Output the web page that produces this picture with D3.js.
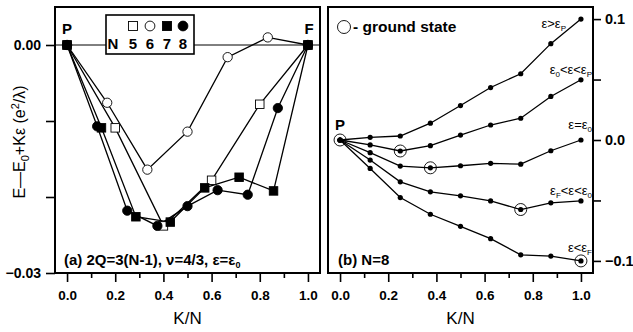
<!DOCTYPE html>
<html>
<head>
<meta charset="utf-8">
<script src="https://cdn.jsdelivr.net/npm/d3@7"></script>
<style>
  body { margin: 0; background: #fff; }
  svg text { font-family: "Liberation Sans", Arial, sans-serif; fill: #000; }
</style>
</head>
<body>
<svg id="chart" width="633" height="332"></svg>
<script>
// ---------- data: panel (a) ----------
var n5_x = [0, 0.2, 0.4, 0.6, 0.8, 1.0];
var n5_y = [0, -0.0109, -0.0238, -0.0178, -0.0078, 0];
var n6_x = [0, 1/6, 1/3, 1/2, 2/3, 5/6, 1];
var n6_y = [0, -0.0076, -0.0164, -0.0114, -0.0016, 0.001, 0];
var n7_x = [0, 1/7, 2/7, 3/7, 4/7, 5/7, 6/7, 1];
var n7_y = [0, -0.0109, -0.0226, -0.0233, -0.0188, -0.0174, -0.0192, 0];
var n8_x = [0, 0.125, 0.25, 0.375, 0.5, 0.625, 0.75, 0.875, 1];
var n8_y = [0, -0.0107, -0.0218, -0.0238, -0.0212, -0.0191, -0.0197, -0.0083, 0];

// ---------- data: panel (b), N=8 ----------
var b_x = [0, 0.125, 0.25, 0.375, 0.5, 0.625, 0.75, 0.875, 1];
var b_above_p = [0, 0.0022, 0.0033, 0.0139, 0.0285, 0.0434, 0.0548, 0.0797, 0.1];
var b_0_to_p  = [0, -0.0041, -0.0091, -0.0047, 0.0041, 0.0124, 0.018, 0.036, 0.0498];
var b_eq_0    = [0, -0.0105, -0.0216, -0.023, -0.0213, -0.0193, -0.02, -0.0089, 0];
var b_f_to_0  = [0, -0.0166, -0.0346, -0.0429, -0.0462, -0.0504, -0.0575, -0.052, -0.0504];
var b_below_f = [0, -0.0235, -0.0476, -0.0614, -0.0714, -0.0816, -0.095, -0.096, -0.1];
// index of the ground state on each curve
var b_ground = [-1, 2, 3, 6, 8];

var a_yticks = [0, -0.01, -0.02, -0.03];
var b_yticks = [0.1, 0.05, 0, -0.05, -0.1];
var x_major = [0, 0.2, 0.4, 0.6, 0.8, 1.0];
var x_minor = [0.1, 0.3, 0.5, 0.7, 0.9];

var svg = d3.select("#chart");

// bold text helper
function btext(g, x, y, size, str) {
  return g.append("text").attr("x", x).attr("y", y)
    .style("font-size", size + "px").style("font-weight", "bold").text(str || null);
}

/*********************
	Panel (a)
**********************/
var ax = d3.scaleLinear().domain([-0.05, 1.05]).range([55, 320]);
var ay = d3.scaleLinear().domain([-0.03, 0.005]).range([273, 7]);
var line = d3.line();

var pa = svg.append("g");

// zero line
pa.append("line").attr("x1", ax.range()[0]).attr("x2", ax.range()[1])
  .attr("y1", ay(0)).attr("y2", ay(0)).attr("stroke", "#000").attr("stroke-width", 1);

function drawXAxis(g, scale) {
  g.append("g").attr("transform", "translate(0,273)")
    .call(d3.axisBottom(scale).tickValues(x_major).tickSize(9).tickPadding(8).tickFormat(d3.format(".1f")))
    .call(styleAxis);
  g.append("g").attr("transform", "translate(0,273)")
    .call(d3.axisBottom(scale).tickValues(x_minor).tickSize(5).tickFormat(""))
    .call(styleAxis);
  g.append("text").attr("x", (scale(0) + scale(1)) / 2).attr("y", 324)
    .attr("text-anchor", "middle").style("font-size", "17px").style("font-weight", "normal").text("K/N");
}

function styleAxis(sel) {
  sel.select(".domain").remove();
  sel.selectAll("line").attr("stroke", "#000").attr("stroke-width", 1.6);
  sel.selectAll("text").style("font-size", "13.5px").style("font-family", "Liberation Sans, Arial, sans-serif")
    .style("font-weight", "bold");
}

drawXAxis(pa, ax);

pa.append("g").attr("transform", "translate(55,0)")
  .call(d3.axisLeft(ay).tickValues(a_yticks).tickSize(9)
    .tickFormat(function(d) { return (d === 0 || d === -0.03) ? d3.format(".2f")(d) : ""; }))
  .call(styleAxis)
  .selectAll("text").attr("dx", -2).style("font-size", "14px");

// curves
var a_series = [
  {x: n5_x, y: n5_y, shape: "square", fill: "#fff"},
  {x: n6_x, y: n6_y, shape: "circle", fill: "#fff"},
  {x: n7_x, y: n7_y, shape: "square", fill: "#000"},
  {x: n8_x, y: n8_y, shape: "circle", fill: "#000"}
];

a_series.forEach(function(s) {
  var pts = s.x.map(function(v, i) { return [ax(v), ay(s.y[i])]; });
  pa.append("path").attr("d", line(pts)).attr("fill", "none")
    .attr("stroke", "#000").attr("stroke-width", 1.3);
});

function marker(g, shape, fill, cx, cy, size) {
  if (shape === "circle") {
    g.append("circle").attr("cx", cx).attr("cy", cy).attr("r", size / 2 + 0.4)
      .attr("fill", fill).attr("stroke", "#000").attr("stroke-width", 0.9);
  } else {
    g.append("rect").attr("x", cx - size / 2).attr("y", cy - size / 2)
      .attr("width", size).attr("height", size)
      .attr("fill", fill).attr("stroke", "#000").attr("stroke-width", 0.9);
  }
}

a_series.forEach(function(s) {
  s.x.forEach(function(v, i) {
    marker(pa, s.shape, s.fill, ax(v), ay(s.y[i]), 8.5);
  });
});

// legend box
pa.append("rect").attr("x", 106).attr("y", 15).attr("width", 88).attr("height", 39)
  .attr("fill", "#fff").attr("stroke", "#000").attr("stroke-width", 1.6);
var leg_x = [133, 150, 167, 183];
a_series.forEach(function(s, i) {
  marker(pa, s.shape, s.fill, leg_x[i], 26, 9);
});
btext(pa, 113, 49, 15, "N").attr("text-anchor", "middle");
["5", "6", "7", "8"].forEach(function(t, i) {
  btext(pa, leg_x[i], 49, 15, t).attr("text-anchor", "middle");
});

btext(pa, 67, 34, 15, "P").attr("text-anchor", "middle");
btext(pa, 309, 34, 15, "F").attr("text-anchor", "middle");

var cap_a = btext(pa, 64, 265, 15);
cap_a.append("tspan").text("(a) 2Q=3(N-1), \u03bd=4/3, \u03b5=\u03b5");
cap_a.append("tspan").style("font-size", "9px").attr("dy", 3).text("0");

// y title
var yt = svg.append("text").attr("transform", "translate(25,142) rotate(-90)")
  .attr("text-anchor", "middle").style("font-size", "16px").style("font-weight", "normal");
yt.append("tspan").text("E\u2014E");
yt.append("tspan").style("font-size", "11px").attr("dy", 4).text("0");
yt.append("tspan").attr("dy", -4).text("+K\u03b5 (e");
yt.append("tspan").style("font-size", "11px").attr("dy", -6).text("2");
yt.append("tspan").attr("dy", 6).text("/\u03bb)");

pa.append("rect").attr("x", 55).attr("y", 7).attr("width", 265).attr("height", 266)
  .attr("fill", "none").attr("stroke", "#000").attr("stroke-width", 2);

/*********************
	Panel (b)
**********************/
var bx = d3.scaleLinear().domain([-0.05, 1.05]).range([328, 593]);
var by = d3.scaleLinear().domain([-0.11, 0.11]).range([273, 7]);
var pb = svg.append("g");

drawXAxis(pb, bx);

pb.append("g").attr("transform", "translate(593,0)")
  .call(d3.axisRight(by).tickValues(b_yticks).tickSize(8)
    .tickFormat(function(d) { return Math.abs(d) === 0.05 ? "" : d3.format(".1f")(d); }))
  .call(styleAxis)
  .selectAll("text").attr("dx", 1).style("font-size", "14.5px");

var b_series = [b_above_p, b_0_to_p, b_eq_0, b_f_to_0, b_below_f];
b_series.forEach(function(ys) {
  var pts = b_x.map(function(v, i) { return [bx(v), by(ys[i])]; });
  pb.append("path").attr("d", line(pts)).attr("fill", "none")
    .attr("stroke", "#000").attr("stroke-width", 1.3);
});
b_series.forEach(function(ys, k) {
  b_x.forEach(function(v, i) {
    pb.append("circle").attr("cx", bx(v)).attr("cy", by(ys[i])).attr("r", 2.6).attr("fill", "#000");
    if (i === b_ground[k]) {
      pb.append("circle").attr("cx", bx(v)).attr("cy", by(ys[i])).attr("r", 6)
        .attr("fill", "none").attr("stroke", "#000").attr("stroke-width", 0.9);
    }
  });
});
// ground state at P
pb.append("circle").attr("cx", bx(0)).attr("cy", by(0)).attr("r", 6)
  .attr("fill", "none").attr("stroke", "#000").attr("stroke-width", 0.9);

btext(pb, 340, 130, 15, "P").attr("text-anchor", "middle");

// legend
pb.append("circle").attr("cx", 344).attr("cy", 27).attr("r", 6.5)
  .attr("fill", "none").attr("stroke", "#000").attr("stroke-width", 0.9);
btext(pb, 353, 32, 15.5, "- ground state");

// curve labels
function epsLabel(x, y, parts) {
  var t = pb.append("text").attr("x", x).attr("y", y).attr("text-anchor", "end")
    .style("font-size", "13px").style("font-weight", "normal");
  parts.forEach(function(p) {
    if (p.sub) t.append("tspan").style("font-size", "8px").attr("dy", 3).text(p.sub);
    else t.append("tspan").attr("dy", p.up ? -3 : 0).text(p.t);
  });
}
epsLabel(566, 28, [{t: "\u03b5>\u03b5"}, {sub: "P"}]);
epsLabel(592, 74, [{t: "\u03b5"}, {sub: "0"}, {t: "<\u03b5<\u03b5", up: true}, {sub: "P"}]);
epsLabel(592, 129, [{t: "\u03b5=\u03b5"}, {sub: "0"}]);
epsLabel(592, 195, [{t: "\u03b5"}, {sub: "F"}, {t: "<\u03b5<\u03b5", up: true}, {sub: "0"}]);
epsLabel(592, 252, [{t: "\u03b5<\u03b5"}, {sub: "F"}]);

btext(pb, 338, 265, 15, "(b) N=8");

pb.append("rect").attr("x", 328).attr("y", 7).attr("width", 265).attr("height", 266)
  .attr("fill", "none").attr("stroke", "#000").attr("stroke-width", 2);
</script>
</body>
</html>
